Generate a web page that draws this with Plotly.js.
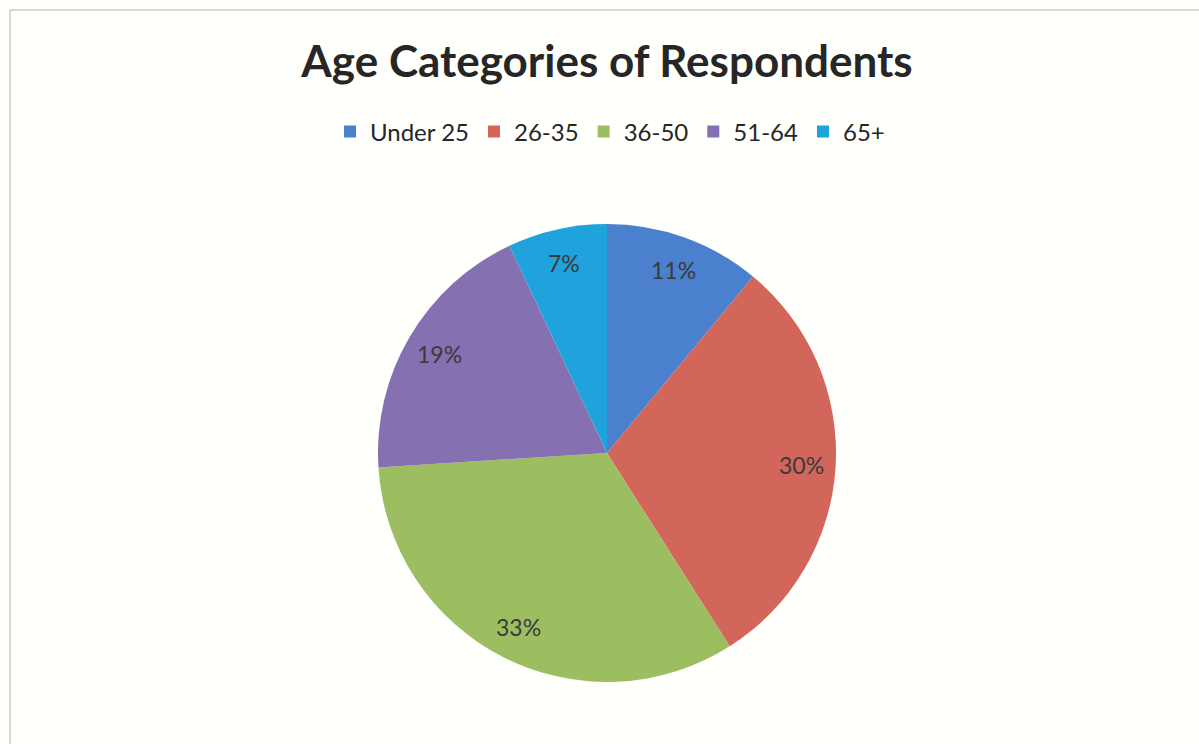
<!DOCTYPE html>
<html>
<head>
<meta charset="utf-8">
<script src="https://cdn.plot.ly/plotly-3.0.1.min.js"></script>
<style>html,body{margin:0;padding:0;background:#fffffc;}#chart{width:1199px;height:744px;}</style>
</head>
<body>
<div id="chart"></div>
<script>
var categories = ['Under 25', '26-35', '36-50', '51-64', '65+'];
var values = [11, 30, 33, 19, 7];
var colors = ['#4A80CE', '#D2665A', '#9DBE60', '#8571B1', '#20A2DC'];

var W = 1199, H = 744;
var cx = 607, cy = 453, R = 229, labelR = 195;

var total = values.reduce(function(a, b){ return a + b; }, 0);
var annotations = [];
var cum = 0;
for (var i = 0; i < values.length; i++) {
  var mid = (cum + values[i] / 2) / total * 2 * Math.PI;
  cum += values[i];
  var px = cx + labelR * Math.sin(mid);
  var py = cy - labelR * Math.cos(mid);
  annotations.push({
    xref: 'paper', yref: 'paper',
    x: px / W, y: 1 - py / H,
    xanchor: 'center', yanchor: 'middle',
    text: Math.round(values[i] / total * 100) + '%',
    showarrow: false,
    font: {family: 'Lato, "Open Sans", sans-serif', size: 23, color: '#3a3a3a'}
  });
}

var trace = {
  type: 'pie',
  labels: categories,
  values: values,
  sort: false,
  direction: 'clockwise',
  rotation: 0,
  marker: {colors: colors, line: {width: 0}},
  textinfo: 'none',
  hoverinfo: 'skip',
  domain: {x: [(cx - R) / W, (cx + R) / W], y: [(H - cy - R) / H, (H - cy + R) / H]}
};

var layout = {
  width: W, height: H,
  margin: {l: 0, r: 0, t: 0, b: 0},
  paper_bgcolor: '#fffffc',
  plot_bgcolor: '#fffffc',
  title: {
    text: '<b>Age Categories of Respondents</b>',
    font: {family: 'Lato, "Open Sans", sans-serif', size: 44, color: '#262626'},
    x: 607 / W, xanchor: 'center',
    y: 1 - 62 / H, yanchor: 'middle'
  },
  showlegend: true,
  legend: {
    orientation: 'h',
    x: 610 / W, xanchor: 'center',
    y: 1 - 132 / H, yanchor: 'middle',
    font: {family: 'Lato, "Open Sans", sans-serif', size: 24, color: '#262626'},
    itemwidth: 30,
    traceorder: 'normal'
  },
  annotations: annotations,
  shapes: [
    {type: 'line', xref: 'paper', yref: 'paper', x0: 10 / W, x1: 1, y0: 1 - 10 / H, y1: 1 - 10 / H, line: {color: '#b0b0b0', width: 1}},
    {type: 'line', xref: 'paper', yref: 'paper', x0: 10 / W, x1: 10 / W, y0: 0, y1: 1 - 10 / H, line: {color: '#b0b0b0', width: 1}}
  ]
};

Plotly.newPlot('chart', [trace], layout, {displayModeBar: false, staticPlot: true});
</script>
</body>
</html>
